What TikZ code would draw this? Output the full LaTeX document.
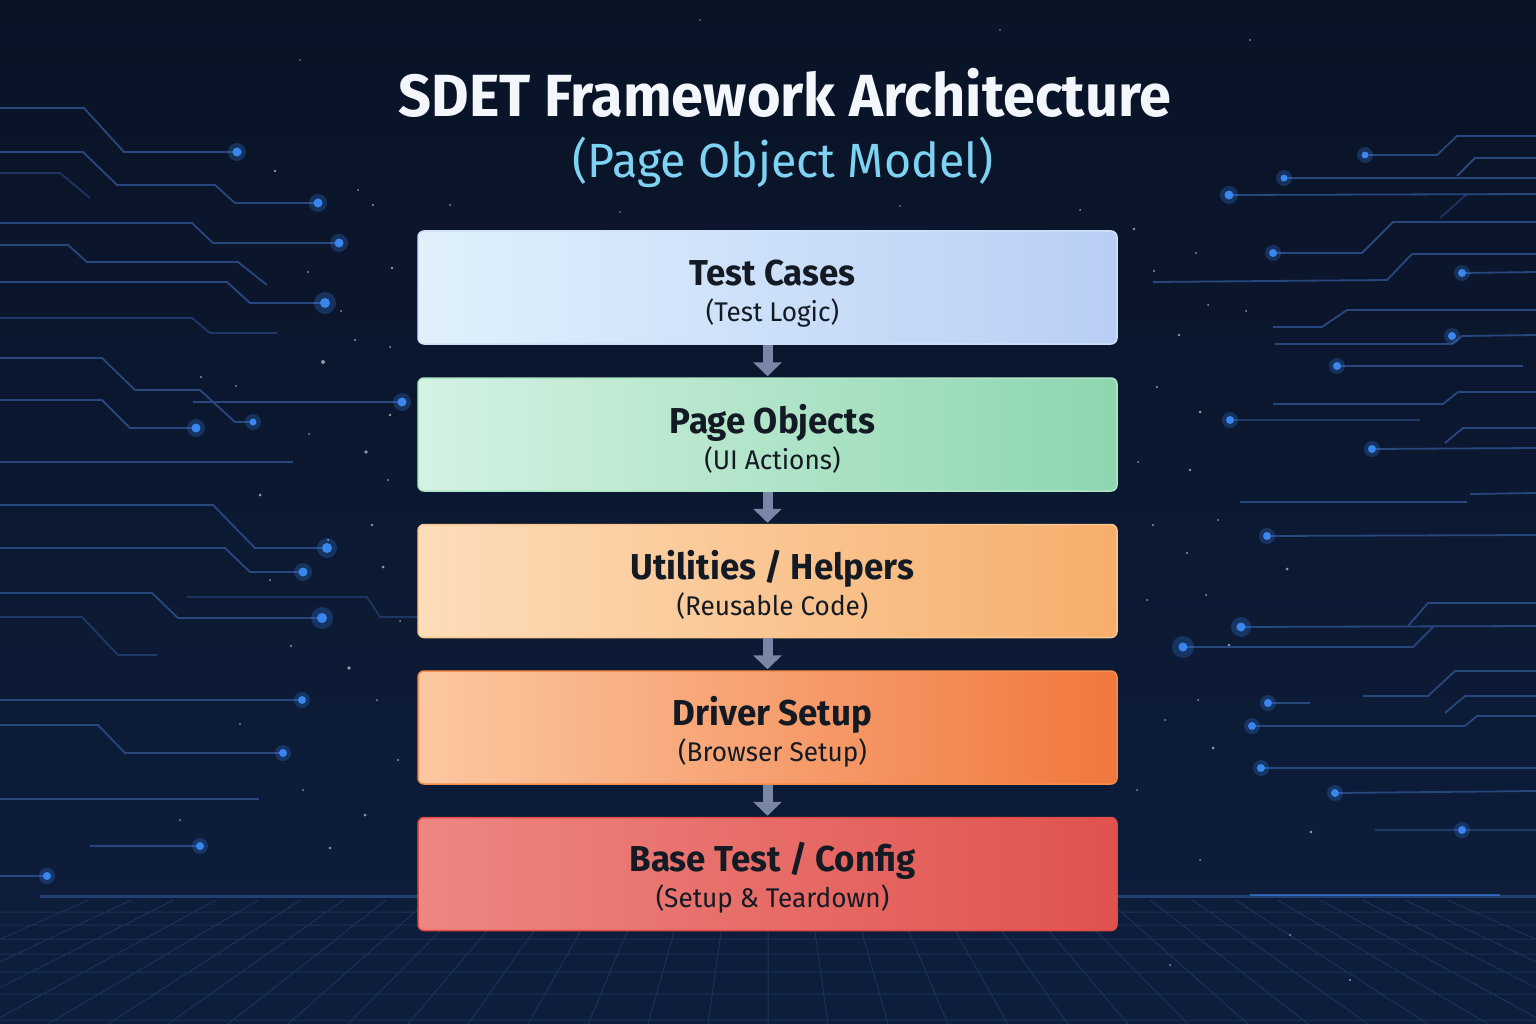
\documentclass[tikz,border=0pt]{standalone}
\usepackage{fontspec}
\setmainfont[FakeStretch=0.97]{Fira Sans}
\usetikzlibrary{arrows.meta}

\definecolor{nighttop}{HTML}{0A1326}
\definecolor{nightbot}{HTML}{0D1E3D}
\definecolor{tracec}{HTML}{29477F}
\definecolor{padc}{HTML}{3A86EE}
\definecolor{gridc}{HTML}{1B3158}
\definecolor{titlec}{HTML}{F3F6FA}
\definecolor{subc}{HTML}{7ED3F2}
\definecolor{ink}{HTML}{141A24}
\definecolor{flowgray}{HTML}{7A86A6}
\definecolor{testl}{HTML}{E0F1FC}
\definecolor{testr}{HTML}{B9CEF5}
\definecolor{testb}{HTML}{D0E0F8}
\definecolor{pagel}{HTML}{D4F2E3}
\definecolor{pager}{HTML}{8DD6AE}
\definecolor{pageb}{HTML}{B0E6C8}
\definecolor{utill}{HTML}{FDDDBA}
\definecolor{utilr}{HTML}{F6AE6B}
\definecolor{utilb}{HTML}{F8C890}
\definecolor{drivl}{HTML}{FCC8A2}
\definecolor{drivr}{HTML}{F1773D}
\definecolor{drivb}{HTML}{F48C4C}
\definecolor{basel}{HTML}{EE8682}
\definecolor{baser}{HTML}{E0524D}
\definecolor{baseb}{HTML}{E24A45}

\begin{document}
\begin{tikzpicture}[x=1pt, y=-1pt,
    layer/.style={draw, line width=1.5pt, rounded corners=6pt, minimum width=699pt,
      minimum height=113pt, inner sep=0pt, align=center, text=ink,
      font=\fontsize{27}{36}\selectfont},
    flow/.style={draw=flowgray, line width=10pt, shorten >=1pt,
      -{Triangle[width=28pt,length=14pt]}},
    trace/.style={draw=tracec, line width=1.8pt},
    pad/.style={fill=padc},
    halo/.style={fill=padc, opacity=0.25},
    star/.style={fill=white, opacity=0.55}]

  \useasboundingbox (0,0) rectangle (1536,1024);
  \shade[top color=nighttop, bottom color=nightbot] (0,0) rectangle (1536,1024);

  % floor grid
  \begin{scope}
    \clip (0,900) rectangle (1536,1024);
    \draw[gridc, line width=1pt]
      (216,900) -- (-12,1024)  (258.6,900) -- (48,1024)  (301,900) -- (108,1024)
      (343.5,900) -- (168,1024)  (386,900) -- (228,1024)  (428.4,900) -- (288,1024)
      (470.9,900) -- (348,1024)  (513.3,900) -- (408,1024)  (555.8,900) -- (468,1024)
      (598.2,900) -- (528,1024)  (640.7,900) -- (588,1024)  (683.1,900) -- (648,1024)
      (725.6,900) -- (708,1024)  (768,900) -- (768,1024)  (810.5,900) -- (828,1024)
      (852.9,900) -- (888,1024)  (895.4,900) -- (948,1024)  (937.8,900) -- (1008,1024)
      (980.3,900) -- (1068,1024)  (1022.7,900) -- (1128,1024)  (1065.2,900) -- (1188,1024)
      (1107.6,900) -- (1248,1024)  (1150.1,900) -- (1308,1024)  (1192.5,900) -- (1368,1024)
      (1235,900) -- (1428,1024)  (1277.4,900) -- (1488,1024)  (1320,900) -- (1548,1024)
      (173.7,900) -- (-72,1024)  (131.3,900) -- (-132,1024)  (88.8,900) -- (-192,1024)
      (1362.3,900) -- (1608,1024)  (1404.7,900) -- (1668,1024)  (1447.2,900) -- (1728,1024)
      (0,912) -- (1536,912)  (0,925) -- (1536,925)  (0,939) -- (1536,939)
      (0,954) -- (1536,954)  (0,972) -- (1536,972)  (0,994) -- (1536,994)
      (0,1020) -- (1536,1020);
  \end{scope}
  \draw[tracec, line width=3pt, opacity=0.8] (40,896) -- (1536,896);
  \draw[padc, line width=2pt, opacity=0.6] (1250,895) -- (1500,895);

  % left traces
  \draw[trace] (0,108) -- (84,108) -- (124,152) -- (237,152);
  \draw[trace] (0,152) -- (83,152) -- (117,185) -- (215,185) -- (235,203) -- (318,203);
  \draw[trace, opacity=0.6] (0,173) -- (60,173) -- (90,198);
  \draw[trace] (0,223) -- (192,223) -- (213,243) -- (339,243);
  \draw[trace] (0,245) -- (68,245) -- (87,262) -- (238,262) -- (267,285);
  \draw[trace] (0,282) -- (227,282) -- (250,303) -- (325,303);
  \draw[trace, opacity=0.7] (0,318) -- (192,318) -- (210,333) -- (277,333);
  \draw[trace] (0,358) -- (102,358) -- (135,390) -- (200,390) -- (235,422) -- (253,422);
  \draw[trace] (193,402) -- (402,402);
  \draw[trace] (0,400) -- (102,400) -- (130,428) -- (196,428);
  \draw[trace] (0,462) -- (293,462);
  \draw[trace] (0,505) -- (213,505) -- (255,548) -- (327,548);
  \draw[trace] (0,548) -- (225,548) -- (250,572) -- (303,572);
  \draw[trace] (0,593) -- (152,593) -- (178,618) -- (322,618);
  \draw[trace, opacity=0.6] (187,597) -- (367,597) -- (380,617) -- (420,617);
  \draw[trace, opacity=0.7] (0,617) -- (82,617) -- (118,655) -- (157,655);
  \draw[trace] (0,700) -- (302,700);
  \draw[trace] (0,725) -- (98,725) -- (125,753) -- (283,753);
  \draw[trace] (0,799) -- (259,799);
  \draw[trace] (90,846) -- (200,846);
  \draw[trace] (0,876) -- (47,876);

  % right traces
  \draw[trace] (1365,155) -- (1437,155) -- (1457,136) -- (1536,136);
  \draw[trace] (1457,176) -- (1475,158) -- (1536,158);
  \draw[trace] (1284,178) -- (1536,178);
  \draw[trace] (1229,195) -- (1536,194);
  \draw[trace, opacity=0.6] (1440,218) -- (1467,194);
  \draw[trace] (1273,253) -- (1362,253) -- (1393,222) -- (1536,222);
  \draw[trace] (1153,282) -- (1387,280) -- (1412,254) -- (1536,254);
  \draw[trace] (1462,273) -- (1536,272);
  \draw[trace] (1273,327) -- (1322,327) -- (1347,310) -- (1536,310);
  \draw[trace] (1275,344) -- (1452,344) -- (1462,336) -- (1536,335);
  \draw[trace] (1337,366) -- (1523,366);
  \draw[trace] (1273,404) -- (1443,404) -- (1458,392) -- (1536,392);
  \draw[trace, opacity=0.7] (1230,420) -- (1420,420);
  \draw[trace] (1445,443) -- (1463,428) -- (1536,428);
  \draw[trace] (1372,449) -- (1536,448);
  \draw[trace] (1470,494) -- (1536,493);
  \draw[trace] (1240,502) -- (1467,502);
  \draw[trace] (1267,536) -- (1536,535);
  \draw[trace] (1408,626) -- (1428,603) -- (1536,603);
  \draw[trace] (1241,627) -- (1536,626);
  \draw[trace] (1183,647) -- (1413,647) -- (1433,627);
  \draw[trace] (1363,696) -- (1428,696) -- (1455,671) -- (1536,671);
  \draw[trace] (1445,713) -- (1465,696) -- (1536,696);
  \draw[trace] (1268,703) -- (1310,703);
  \draw[trace] (1252,726) -- (1465,726) -- (1477,716) -- (1536,716);
  \draw[trace] (1261,768) -- (1536,768);
  \draw[trace] (1335,793) -- (1536,791);
  \draw[trace, opacity=0.7] (1375,830) -- (1536,830);

  % trace end pads
  \fill[halo] (237,152) circle (9) (318,203) circle (9) (339,243) circle (9)
    (325,303) circle (11) (253,422) circle (8) (402,402) circle (9) (196,428) circle (9)
    (327,548) circle (10) (303,572) circle (9) (322,618) circle (11) (302,700) circle (8)
    (283,753) circle (8) (200,846) circle (8) (47,876) circle (8)
    (1365,155) circle (8) (1284,178) circle (8) (1229,195) circle (9) (1273,253) circle (8)
    (1462,273) circle (8) (1452,336) circle (8) (1337,366) circle (8) (1230,420) circle (8)
    (1372,449) circle (8) (1267,536) circle (8) (1241,627) circle (10) (1183,647) circle (11)
    (1268,703) circle (8) (1252,726) circle (8) (1261,768) circle (8) (1335,793) circle (8)
    (1462,830) circle (8);
  \fill[pad] (237,152) circle (4.5) (318,203) circle (4.5) (339,243) circle (4.5)
    (325,303) circle (5) (253,422) circle (3.5) (402,402) circle (4.5) (196,428) circle (4.5)
    (327,548) circle (5) (303,572) circle (4.5) (322,618) circle (5) (302,700) circle (4)
    (283,753) circle (4) (200,846) circle (4) (47,876) circle (4)
    (1365,155) circle (3.5) (1284,178) circle (3.5) (1229,195) circle (4.5) (1273,253) circle (4)
    (1462,273) circle (4) (1452,336) circle (4) (1337,366) circle (4) (1230,420) circle (4)
    (1372,449) circle (4) (1267,536) circle (4) (1241,627) circle (4.5) (1183,647) circle (4.5)
    (1268,703) circle (4) (1252,726) circle (4) (1261,768) circle (4) (1335,793) circle (4)
    (1462,830) circle (4);

  % stars
  \fill[star] (275,171) circle (1.3) (358,190) circle (1) (373,205) circle (1.2)
    (308,272) circle (1) (392,268) circle (1.3) (341,311) circle (1) (355,340) circle (1.2)
    (323,362) circle (2) (390,347) circle (1) (201,377) circle (1.2) (236,386) circle (1)
    (390,415) circle (1.3) (309,434) circle (1) (366,452) circle (1.8) (388,480) circle (1)
    (260,495) circle (1.5) (372,525) circle (1.3) (328,540) circle (1) (383,567) circle (1.5)
    (270,580) circle (1) (291,646) circle (1.2) (400,621) circle (1) (349,668) circle (1.8)
    (377,700) circle (1) (303,790) circle (1) (365,815) circle (1.5) (330,848) circle (1.3)
    (240,724) circle (1) (180,820) circle (1) (398,760) circle (1.2)
    (1134,229) circle (1.3) (1196,253) circle (1) (1154,271) circle (1.2) (1208,305) circle (1)
    (1179,335) circle (1.3) (1246,311) circle (1) (1157,387) circle (1.2) (1200,412) circle (1.5)
    (1138,462) circle (1) (1190,470) circle (1.3) (1218,520) circle (1) (1153,525) circle (1.2)
    (1187,553) circle (1.2) (1287,569) circle (1.5) (1206,595) circle (1) (1147,600) circle (1)
    (1229,645) circle (1.3) (1198,700) circle (1) (1165,720) circle (1) (1213,748) circle (1.5)
    (1137,790) circle (1) (1311,832) circle (1.3) (1200,860) circle (1) (1290,935) circle (1)
    (1350,980) circle (1.2) (1170,965) circle (1) (450,205) circle (1) (620,212) circle (0.8)
    (900,206) circle (0.8) (1080,210) circle (1) (300,60) circle (0.8) (1250,40) circle (1)
    (700,20) circle (0.8) (1000,30) circle (0.8);

  % title
  \node[anchor=base, text=titlec, font=\fontsize{59.5}{66}\selectfont\bfseries] (title)
    at (785,117) {SDET Framework Architecture};
  \node[anchor=base, text=subc, font=\fontsize{48}{52}\selectfont] (subtitle)
    at (783,178) {(Page Object Model)};

  % layers
  \node[layer, draw=testb, left color=testl, right color=testr]
    (tests) at (767.5,287.5) {\rule{0pt}{37pt}\fontsize{36}{36}\selectfont\bfseries\hspace*{10pt}Test Cases\\\hspace*{10pt}(Test Logic)};
  \node[layer, draw=pageb, left color=pagel, right color=pager]
    (pages) at (767.5,434.5) {\rule{0pt}{37pt}\fontsize{36}{36}\selectfont\bfseries\hspace*{10pt}Page Objects\\\hspace*{10pt}(UI Actions)};
  \node[layer, draw=utilb, left color=utill, right color=utilr]
    (utils) at (767.5,581) {\rule{0pt}{37pt}\fontsize{36}{36}\selectfont\bfseries\hspace*{10pt}Utilities / Helpers\\\hspace*{10pt}(Reusable Code)};
  \node[layer, draw=drivb, left color=drivl, right color=drivr]
    (driver) at (767.5,727.5) {\rule{0pt}{37pt}\fontsize{36}{36}\selectfont\bfseries\hspace*{10pt}Driver Setup\\\hspace*{10pt}(Browser Setup)};
  \node[layer, draw=baseb, left color=basel, right color=baser]
    (base) at (767.5,874) {\rule{0pt}{37pt}\fontsize{36}{36}\selectfont\bfseries\hspace*{10pt}Base Test / Config\\\hspace*{10pt}(Setup \& Teardown)};

  \draw[flow] (tests.south) -- (pages.north);
  \draw[flow] (pages.south) -- (utils.north);
  \draw[flow] (utils.south) -- (driver.north);
  \draw[flow] (driver.south) -- (base.north);

\end{tikzpicture}
\end{document}
